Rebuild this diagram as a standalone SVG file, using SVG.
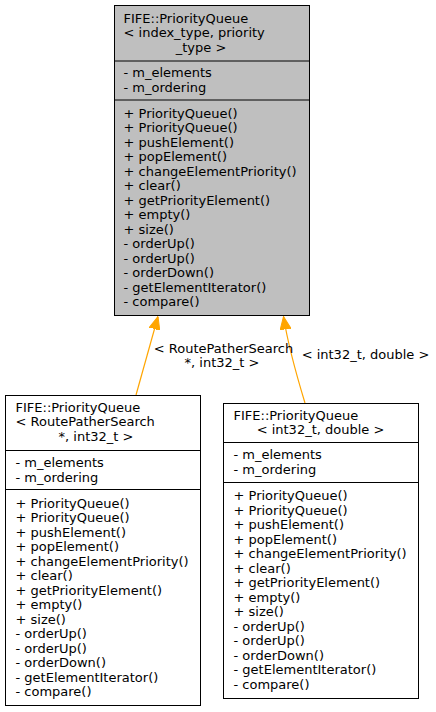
<svg xmlns="http://www.w3.org/2000/svg" width="436" height="712" viewBox="0 0 436 712">
<style>
text{font-family:"DejaVu Sans",sans-serif;font-size:13px;fill:#000}
.c{text-anchor:middle}
.box{stroke:#000;stroke-width:1}
.div{stroke:#000;stroke-width:1}
.edge{fill:none;stroke:#ffa500;stroke-width:1.2}
</style>
<defs>
<marker id="ah" markerUnits="userSpaceOnUse" viewBox="0 0 13 11" refX="13" refY="5.5" markerWidth="13" markerHeight="11" orient="auto">
<path d="M0,0 L13,5.5 L0,11 z" fill="#ffa500" stroke="#ffa500"/>
</marker>
</defs>
<rect width="436" height="712" fill="#fff"/>
<g id="connectors">
<path class="edge" d="M136,395 L158,316.5" marker-end="url(#ah)"/>
<path class="edge" d="M305,403 C298,380 288,345 283.5,316.5" marker-end="url(#ah)"/>
<text class="c" x="223.5" y="352.5">&lt; RoutePatherSearch</text>
<text class="c" x="222" y="366.5">*, int32_t &gt;</text>
<text class="c" x="365.5" y="358.5">&lt; int32_t, double &gt;</text>
</g>
<g id="node-base">
<rect class="box" x="114.5" y="5.5" width="195" height="310" fill="#bfbfbf"/>
<line class="div" x1="114.5" y1="61" x2="309.5" y2="61"/>
<line class="div" x1="114.5" y1="100" x2="309.5" y2="100"/>
<text x="123.5" y="22.5">FIFE::PriorityQueue</text>
<text x="123.5" y="37">&lt; index_type, priority</text>
<text class="c" x="201" y="51.5">_type &gt;</text>
<text x="123.5" y="76.5">- m_elements</text>
<text x="123.5" y="91.5">- m_ordering</text>
<text x="123.5" y="117.5">+ PriorityQueue()</text>
<text x="123.5" y="132">+ PriorityQueue()</text>
<text x="123.5" y="146.5">+ pushElement()</text>
<text x="123.5" y="161">+ popElement()</text>
<text x="123.5" y="175.5">+ changeElementPriority()</text>
<text x="123.5" y="190">+ clear()</text>
<text x="123.5" y="204.5">+ getPriorityElement()</text>
<text x="123.5" y="219">+ empty()</text>
<text x="123.5" y="233.5">+ size()</text>
<text x="123.5" y="248">- orderUp()</text>
<text x="123.5" y="262.5">- orderUp()</text>
<text x="123.5" y="277">- orderDown()</text>
<text x="123.5" y="291.5">- getElementIterator()</text>
<text x="123.5" y="306">- compare()</text>
</g>
<g id="node-routepather">
<rect class="box" x="5.5" y="395.5" width="195" height="310" fill="#fff"/>
<line class="div" x1="5.5" y1="450.5" x2="200.5" y2="450.5"/>
<line class="div" x1="5.5" y1="489.5" x2="200.5" y2="489.5"/>
<text x="15.5" y="411.5">FIFE::PriorityQueue</text>
<text x="15.5" y="426">&lt; RoutePatherSearch</text>
<text class="c" x="96" y="440.5">*, int32_t &gt;</text>
<text x="15.5" y="466.5">- m_elements</text>
<text x="15.5" y="481.5">- m_ordering</text>
<text x="15.5" y="507.5">+ PriorityQueue()</text>
<text x="15.5" y="522">+ PriorityQueue()</text>
<text x="15.5" y="536.5">+ pushElement()</text>
<text x="15.5" y="551">+ popElement()</text>
<text x="15.5" y="565.5">+ changeElementPriority()</text>
<text x="15.5" y="580">+ clear()</text>
<text x="15.5" y="594.5">+ getPriorityElement()</text>
<text x="15.5" y="609">+ empty()</text>
<text x="15.5" y="623.5">+ size()</text>
<text x="15.5" y="638">- orderUp()</text>
<text x="15.5" y="652.5">- orderUp()</text>
<text x="15.5" y="667">- orderDown()</text>
<text x="15.5" y="681.5">- getElementIterator()</text>
<text x="15.5" y="696">- compare()</text>
</g>
<g id="node-int32double">
<rect class="box" x="223.5" y="403.5" width="195" height="295" fill="#fff"/>
<line class="div" x1="223.5" y1="442.5" x2="418.5" y2="442.5"/>
<line class="div" x1="223.5" y1="482.5" x2="418.5" y2="482.5"/>
<text x="233.5" y="419.5">FIFE::PriorityQueue</text>
<text class="c" x="320.5" y="434">&lt; int32_t, double &gt;</text>
<text x="233.5" y="458.5">- m_elements</text>
<text x="233.5" y="473.5">- m_ordering</text>
<text x="233.5" y="500">+ PriorityQueue()</text>
<text x="233.5" y="514.5">+ PriorityQueue()</text>
<text x="233.5" y="529">+ pushElement()</text>
<text x="233.5" y="543.5">+ popElement()</text>
<text x="233.5" y="558">+ changeElementPriority()</text>
<text x="233.5" y="572.5">+ clear()</text>
<text x="233.5" y="587">+ getPriorityElement()</text>
<text x="233.5" y="601.5">+ empty()</text>
<text x="233.5" y="616">+ size()</text>
<text x="233.5" y="630.5">- orderUp()</text>
<text x="233.5" y="645">- orderUp()</text>
<text x="233.5" y="659.5">- orderDown()</text>
<text x="233.5" y="674">- getElementIterator()</text>
<text x="233.5" y="688.5">- compare()</text>
</g>
</svg>
